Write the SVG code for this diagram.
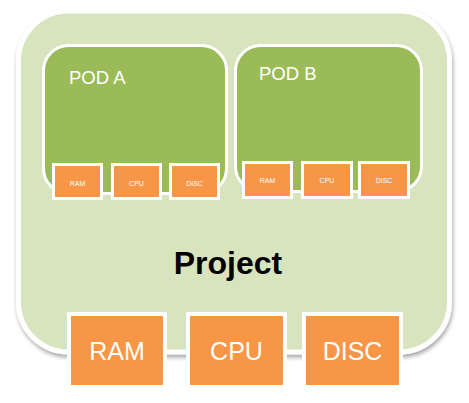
<svg xmlns="http://www.w3.org/2000/svg" width="469" height="403" viewBox="0 0 469 403">
<defs>
<filter id="sh" x="-10%" y="-10%" width="120%" height="120%">
<feGaussianBlur in="SourceAlpha" stdDeviation="2"/>
<feOffset dx="1" dy="3" result="b"/>
<feComponentTransfer><feFuncA type="linear" slope="0.35"/></feComponentTransfer>
<feMerge><feMergeNode/><feMergeNode in="SourceGraphic"/></feMerge>
</filter>
<style>
.proj{fill:#D7E4BD;stroke:#fff;stroke-width:5}
.pod{fill:#9BBB59;stroke:#fff;stroke-width:3}
.sb{fill:#F79646;stroke:#fff;stroke-width:3}
.bb{fill:#F79646;stroke:#fff;stroke-width:4}
.t{font-family:"Liberation Sans",Arial,sans-serif;fill:#fff;text-anchor:middle}
.st{font-size:7px}
.bt{font-size:25px}
.pt{font-family:"Liberation Sans",Arial,sans-serif;fill:#fff;font-size:18.5px}
</style>
</defs>
<g id="project">
<rect class="proj" x="18.5" y="11" width="431" height="341" rx="50" filter="url(#sh)"/>
<text x="228" y="274" font-family="'Liberation Sans',Arial,sans-serif" font-weight="bold" font-size="32" text-anchor="middle" fill="#000">Project</text>
</g>
<g id="podA">
<rect class="pod" x="43.5" y="45.5" width="183" height="148" rx="25"/>
<text class="pt" x="69" y="84">POD A</text>
</g>
<g id="podB">
<rect class="pod" x="235.5" y="45.5" width="186" height="146" rx="25"/>
<text class="pt" x="259" y="80">POD B</text>
</g>
<g id="podA-ram"><rect class="sb" x="53.5" y="164.5" width="48" height="34"/><text class="t st" x="77.5" y="185.5">RAM</text></g>
<g id="podA-cpu"><rect class="sb" x="112.5" y="164.5" width="48" height="34"/><text class="t st" x="136.5" y="185.5">CPU</text></g>
<g id="podA-disc"><rect class="sb" x="170.5" y="164.5" width="48" height="34"/><text class="t st" x="194.5" y="185.5">DISC</text></g>
<g id="podB-ram"><rect class="sb" x="243.5" y="162.5" width="48" height="35"/><text class="t st" x="267.5" y="182.5">RAM</text></g>
<g id="podB-cpu"><rect class="sb" x="302.5" y="162.5" width="49" height="35"/><text class="t st" x="327" y="182.5">CPU</text></g>
<g id="podB-disc"><rect class="sb" x="359.5" y="162.5" width="49" height="35"/><text class="t st" x="384" y="182.5">DISC</text></g>
<g id="ram"><rect class="bb" x="69" y="314" width="96" height="73"/><text class="t bt" x="117" y="360">RAM</text></g>
<g id="cpu"><rect class="bb" x="188" y="314" width="97" height="73"/><text class="t bt" x="236.5" y="360">CPU</text></g>
<g id="disc"><rect class="bb" x="304" y="314" width="97" height="73"/><text class="t bt" x="352.5" y="360">DISC</text></g>
<g id="connectors"/>
</svg>
